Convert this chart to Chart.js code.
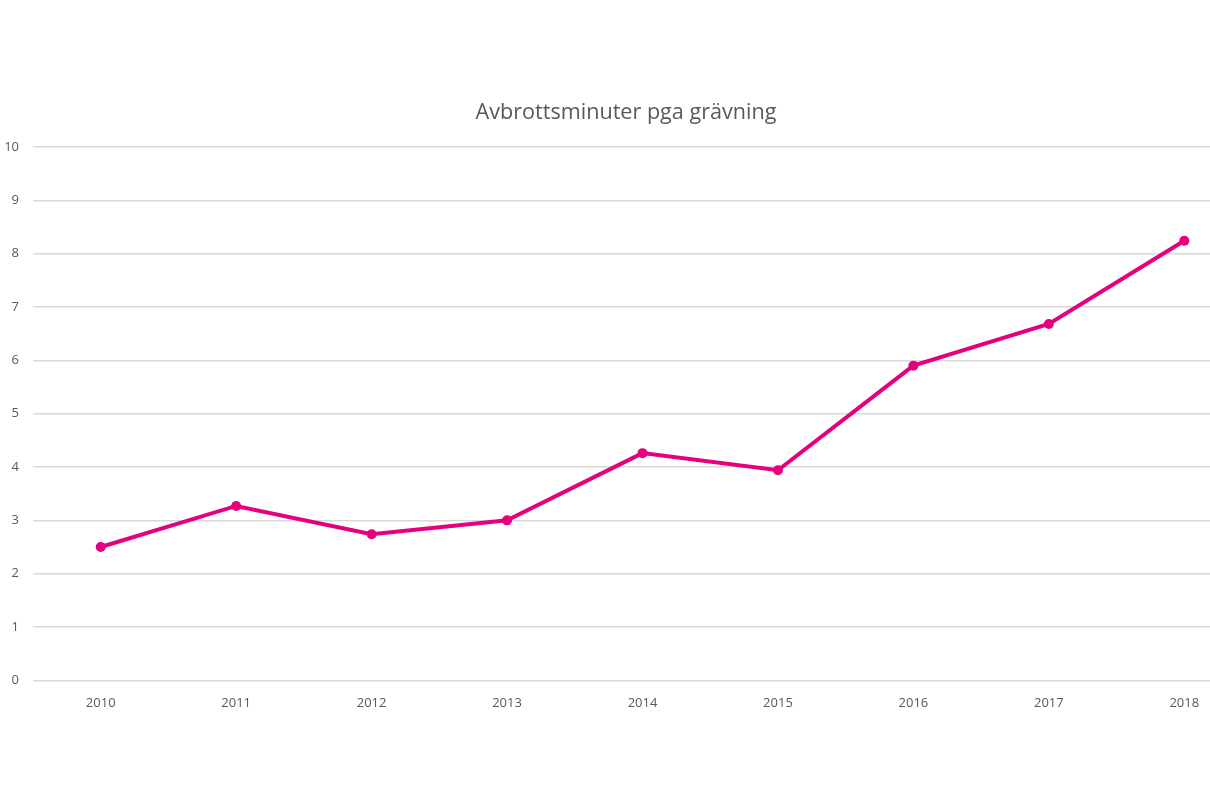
<!DOCTYPE html>
<html>
<head>
<meta charset="utf-8">
<script src="https://cdn.jsdelivr.net/npm/chart.js@4.4.1/dist/chart.umd.min.js"></script>
<style>
html,body{margin:0;padding:0;background:#fff;overflow:hidden;}
#wrap{width:1262px;height:807px;}
</style>
</head>
<body>
<div id="wrap"><canvas id="c" width="1262" height="807"></canvas></div>
<script>
const categories = ["2010","2011","2012","2013","2014","2015","2016","2017","2018"];
const values = [2.5, 3.27, 2.74, 3.0, 4.26, 3.94, 5.9, 6.68, 8.24];
const yTicks = [0,1,2,3,4,5,6,7,8,9,10];
const titleText = "Avbrottsminuter pga grävning";

const FONT = "'Open Sans', 'Liberation Sans', sans-serif";
new Chart(document.getElementById('c'), {
  type: 'line',
  data: {
    labels: categories,
    datasets: [{
      data: values,
      borderColor: '#E5007E',
      backgroundColor: '#E5007E',
      borderWidth: 4,
      pointRadius: 5,
      pointHoverRadius: 5,
      pointBackgroundColor: '#E5007E',
      pointBorderColor: '#E5007E',
      pointBorderWidth: 0,
      tension: 0,
      fill: false
    }]
  },
  options: {
    responsive: false,
    animation: false,
    devicePixelRatio: 1,
    layout: { padding: { left: 0, right: 10, top: 0, bottom: 89 } },
    plugins: {
      legend: { display: false },
      tooltip: { enabled: false },
      title: {
        display: true,
        text: titleText,
        color: '#595959',
        font: { family: FONT, size: 21.6, weight: 'normal' },
        padding: { top: 100, bottom: 21 }
      }
    },
    scales: {
      x: {
        offset: true,
        grid: { display: false },
        border: { display: false },
        ticks: { color: '#595959', font: { family: FONT, size: 13 }, padding: 7, maxRotation: 0 }
      },
      y: {
        min: 0, max: 10,
        afterFit: (s) => { s.width = 33; },
        afterBuildTicks: (s) => { s.ticks = yTicks.map(v => ({ value: v })); },
        grid: { color: '#d9d9d9', lineWidth: 1.5, drawTicks: false },
        border: { display: false },
        ticks: { color: '#595959', font: { family: FONT, size: 13 }, padding: 14 }
      }
    }
  }
});
</script>
</body>
</html>
